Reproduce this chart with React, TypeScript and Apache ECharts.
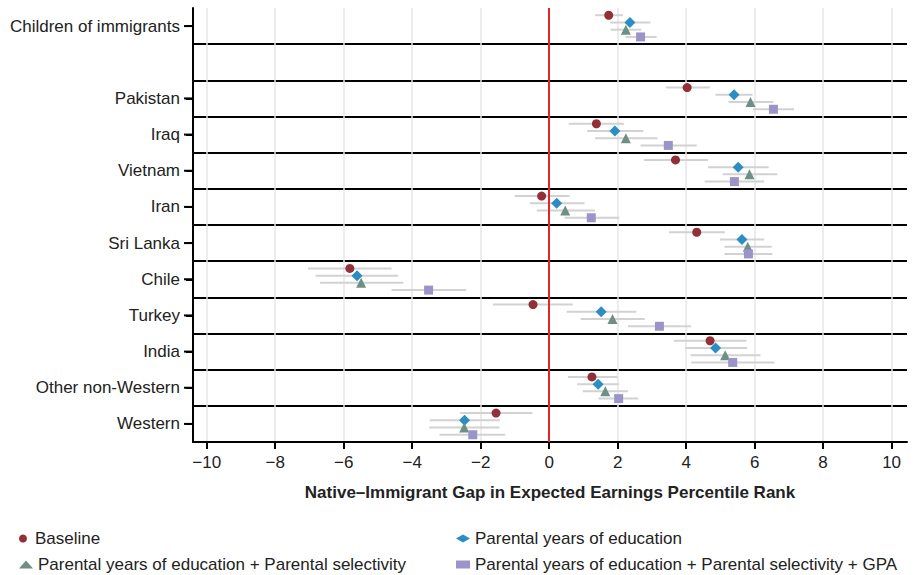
import React, { useEffect, useRef } from "react";
import * as echarts from "echarts";

const categories = [
  "Children of immigrants",
  "",
  "Pakistan",
  "Iraq",
  "Vietnam",
  "Iran",
  "Sri Lanka",
  "Chile",
  "Turkey",
  "India",
  "Other non-Western",
  "Western",
];

const seriesNames = [
  "Baseline",
  "Parental years of education",
  "Parental years of education + Parental selectivity",
  "Parental years of education + Parental selectivity + GPA",
];

const baseline = [1.74, null, 4.03, 1.38, 3.69, -0.22, 4.31, -5.82, -0.47, 4.7, 1.25, -1.55];
const baselineLo = [1.34, null, 3.41, 0.57, 2.77, -1.01, 3.5, -7.04, -1.64, 3.64, 0.55, -2.6];
const baselineHi = [2.15, null, 4.69, 2.18, 4.64, 0.6, 5.13, -4.6, 0.69, 5.76, 1.99, -0.49];

const parEdu = [2.36, null, 5.4, 1.92, 5.52, 0.22, 5.63, -5.61, 1.52, 4.86, 1.43, -2.47];
const parEduLo = [1.78, null, 4.86, 1.11, 4.64, -0.56, 4.99, -6.82, 0.51, 3.97, 0.82, -3.49];
const parEduHi = [2.96, null, 5.94, 2.75, 6.41, 1.03, 6.28, -4.41, 2.55, 5.78, 2.03, -1.44];

const parSel = [2.24, null, 5.88, 2.24, 5.85, 0.47, 5.8, -5.49, 1.85, 5.14, 1.64, -2.48];
const parSelLo = [1.8, null, 5.24, 1.34, 5.07, -0.36, 5.12, -6.69, 0.92, 4.13, 0.98, -3.5];
const parSelHi = [2.69, null, 6.55, 3.16, 6.66, 1.34, 6.5, -4.26, 2.79, 6.17, 2.3, -1.45];

const gpa = [2.67, null, 6.55, 3.48, 5.41, 1.23, 5.82, -3.52, 3.22, 5.36, 2.03, -2.23];
const gpaLo = [2.23, null, 5.95, 2.67, 4.54, 0.45, 5.12, -4.6, 2.3, 4.15, 1.44, -3.2];
const gpaHi = [3.14, null, 7.15, 4.31, 6.28, 2.05, 6.52, -2.42, 4.14, 6.58, 2.6, -1.28];

const xTicks = [-10, -8, -6, -4, -2, 0, 2, 4, 6, 8, 10];
const xMin = -10.4;
const xMax = 10.45;

const FONT = "'Liberation Sans', Arial, Helvetica, sans-serif";

export default function App() {
  const ref = useRef<HTMLDivElement>(null);

  useEffect(() => {
    if (!ref.current) return;
    const chart = echarts.init(ref.current, null, { renderer: "svg" });

    const models = [
      { name: seriesNames[0], v: baseline, lo: baselineLo, hi: baselineHi, symbol: "circle", size: 9, color: "#922f37", offset: -0.3 },
      { name: seriesNames[1], v: parEdu, lo: parEduLo, hi: parEduHi, symbol: "diamond", size: 11, color: "#2a8dc3", offset: -0.1 },
      { name: seriesNames[2], v: parSel, lo: parSelLo, hi: parSelHi, symbol: "triangle", size: 10, color: "#6f8f86", offset: 0.1 },
      { name: seriesNames[3], v: gpa, lo: gpaLo, hi: gpaHi, symbol: "rect", size: 9, color: "#9b94c9", offset: 0.3 },
    ];

    const barData: number[][] = [];
    models.forEach((m) => {
      m.v.forEach((val, i) => {
        if (val == null) return;
        barData.push([m.lo[i] as number, m.hi[i] as number, i + m.offset]);
      });
    });

    const rowTicks = categories
      .map((c, i) => (c === "" ? -1 : i))
      .filter((i) => i >= 0);

    const scatterSeries = models.map((m, k) => ({
      type: "scatter",
      name: m.name,
      xAxisIndex: 0,
      yAxisIndex: 1,
      symbol: m.symbol,
      symbolSize: m.size,
      itemStyle: { color: m.color, opacity: 1 },
      z: k === 0 ? 2 : 3,
      data: m.v
        .map((val, i) => (val == null ? null : [val, i + m.offset]))
        .filter((d) => d != null),
      markLine:
        k === 0
          ? {
              silent: true,
              symbol: "none",
              label: { show: false },
              lineStyle: { color: "#e3242b", width: 2, type: "solid" },
              data: [{ xAxis: 0 }],
            }
          : undefined,
    }));

    const legendPos = [
      [19, 530],
      [456, 530],
      [19, 556],
      [456, 556],
    ];

    const legends = seriesNames.map((n, k) => ({
      data: [n],
      orient: "horizontal",
      left: legendPos[k][0],
      top: legendPos[k][1],
      padding: 0,
      itemWidth: 14,
      itemHeight: 8,
      selectedMode: false,
      textStyle: { fontSize: 17, color: "#222", fontFamily: FONT },
    }));

    const option: any = {
      animation: false,
      grid: { left: 193, right: 6, top: 8, bottom: 133, containLabel: false },
      xAxis: {
        type: "value",
        min: xMin,
        max: xMax,
        axisLine: { show: true, onZero: false, lineStyle: { color: "#000", width: 2 } },
        axisTick: { show: true, length: 7, lineStyle: { color: "#000", width: 2 }, customValues: xTicks },
        axisLabel: {
          customValues: xTicks,
          fontSize: 17,
          color: "#222",
          fontFamily: FONT,
          margin: 12,
          formatter: (v: number) => (v < 0 ? "\u2212" + Math.abs(v) : String(v)),
        },
        splitLine: { show: true, lineStyle: { color: "#e6e6e6", width: 1.5 } },
        name: "Native\u2013Immigrant Gap in Expected Earnings Percentile Rank",
        nameLocation: "middle",
        nameGap: 42,
        nameTextStyle: { fontSize: 17, fontWeight: "bold", color: "#222", fontFamily: FONT },
      },
      yAxis: [
        {
          type: "category",
          data: categories,
          inverse: true,
          boundaryGap: true,
          position: "left",
          axisLine: { show: false, onZero: false },
          axisTick: { show: false },
          axisLabel: { show: false },
          splitLine: {
            show: true,
            interval: 0,
            showMinLine: false,
            showMaxLine: false,
            lineStyle: { color: "#000", width: 2 },
          },
        },
        {
          type: "value",
          inverse: true,
          position: "left",
          min: -0.5,
          max: categories.length - 0.5,
          axisLine: { show: true, onZero: false, lineStyle: { color: "#000", width: 2 } },
          axisTick: { show: true, length: 7, lineStyle: { color: "#000", width: 2 }, customValues: rowTicks },
          axisLabel: {
            customValues: rowTicks,
            showMinLabel: true,
            showMaxLabel: true,
            fontSize: 17,
            color: "#222",
            fontFamily: FONT,
            margin: 13,
            formatter: (v: number) => categories[Math.round(v)] ?? "",
          },
          splitLine: { show: false },
        },
      ],
      legend: legends,
      series: [
        {
          type: "custom",
          name: "errorbars",
          xAxisIndex: 0,
          yAxisIndex: 1,
          z: 1,
          silent: true,
          encode: { x: [0, 1], y: 2 },
          data: barData,
          renderItem: (_params: any, api: any) => {
            const a = api.coord([api.value(0), api.value(2)]);
            const b = api.coord([api.value(1), api.value(2)]);
            return {
              type: "line",
              shape: { x1: a[0], y1: a[1], x2: b[0], y2: b[1] },
              style: { stroke: "#d2d2d2", lineWidth: 2 },
            };
          },
        },
        {
          type: "custom",
          name: "rowticks",
          xAxisIndex: 0,
          yAxisIndex: 1,
          z: 5,
          silent: true,
          clip: false,
          encode: { y: 0 },
          data: rowTicks.map((r) => [r]),
          renderItem: (_params: any, api: any) => {
            const p = api.coord([xMin, api.value(0)]);
            return {
              type: "line",
              shape: { x1: p[0] - 9, y1: p[1], x2: p[0], y2: p[1] },
              style: { stroke: "#000", lineWidth: 2 },
            };
          },
        },
        ...scatterSeries,
      ],
    };

    chart.setOption(option);
    return () => chart.dispose();
  }, []);

  return (
    <div
      ref={ref}
      style={{ position: "fixed", left: 0, top: 0, width: 913, height: 575, background: "#fff" }}
    />
  );
}
